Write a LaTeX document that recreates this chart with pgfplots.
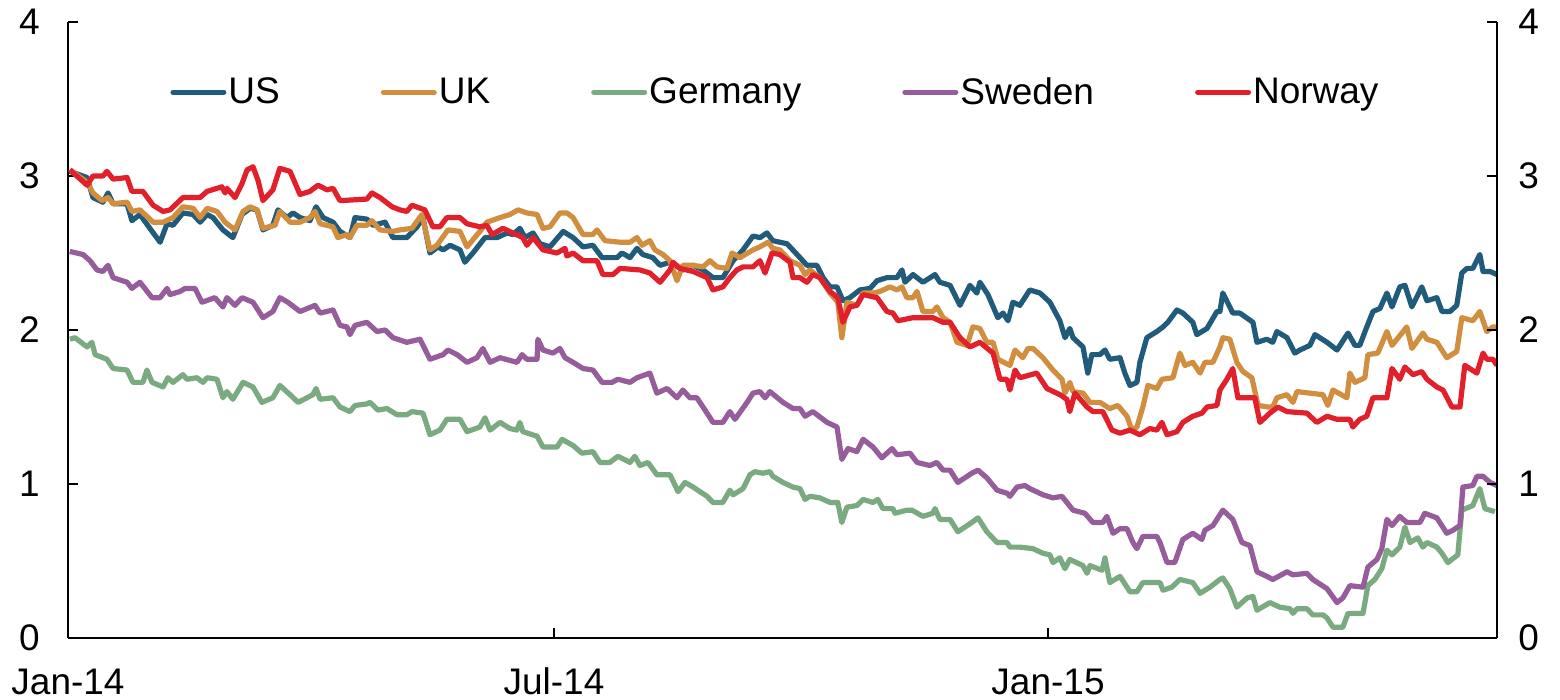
\documentclass[border=0pt]{standalone}
\usepackage{pgfplots}
\pgfplotsset{compat=1.18}
\usepackage{fontspec}
\setmainfont{Liberation Sans}
\definecolor{cUS}{RGB}{33,91,124}
\definecolor{cUK}{RGB}{210,142,63}
\definecolor{cDE}{RGB}{122,170,128}
\definecolor{cSE}{RGB}{150,92,155}
\definecolor{cNO}{RGB}{226,32,44}
\newcommand{\tf}{\fontsize{18.5}{22}\selectfont}
\begin{document}
\begin{tikzpicture}
\begin{axis}[
  scale only axis, width=714.5pt, height=308pt,
  xmin=0, xmax=532.2, ymin=0, ymax=4, enlargelimits=false,
  axis x line*=bottom, axis y line*=left,
  axis line style={-, line width=1pt, black},
  tick align=inside, major tick length=5pt,
  tick style={line width=1pt, black},
  xtick={0,181,365}, xticklabels={Jan-14,Jul-14,Jan-15},
  ytick={0,1,2,3,4},
  /pgf/number format/assume math mode=true,
  ticklabel style={font=\tf, inner sep=0pt},
  xticklabel style={anchor=base, yshift=-28.5pt},
  yticklabel style={xshift=-14pt},
  legend columns=5,
  legend style={at={(0.0714,0.886)}, anchor=west, draw=none, fill=none,
    inner sep=0pt, font=\tf,
    nodes={inner xsep=1pt, inner ysep=0pt},
    /tikz/every even column/.append style={column sep=49.5pt}},
  legend image code/.code={\draw[#1, line width=2.6pt, line cap=round] (1.3pt,0pt) -- (26.7pt,0pt);},
  every axis plot/.append style={line width=2.6pt, line join=round},
]
\coordinate (O) at (rel axis cs:0,0);
\coordinate (T) at (rel axis cs:1,1);
% US
\addplot[cUS, no marks] table {
0.7 3.03
7.1 2.99
9.3 2.86
13.0 2.83
14.9 2.89
16.8 2.82
22.0 2.82
23.8 2.71
26.8 2.75
30.5 2.66
34.3 2.57
36.9 2.69
39.1 2.68
42.8 2.76
46.6 2.75
49.2 2.70
51.8 2.75
54.0 2.73
57.7 2.65
61.4 2.60
64.8 2.75
67.8 2.79
70.4 2.78
72.6 2.65
76.3 2.68
78.2 2.78
81.6 2.73
83.8 2.76
86.4 2.73
90.1 2.71
92.4 2.80
95.0 2.73
98.7 2.70
101.3 2.64
105.0 2.60
106.9 2.73
111.3 2.72
113.6 2.68
118.1 2.70
121.0 2.60
126.2 2.60
130.0 2.67
132.2 2.73
134.8 2.50
137.8 2.54
139.7 2.52
142.3 2.55
146.0 2.52
147.8 2.44
150.8 2.50
155.3 2.60
159.8 2.60
163.5 2.63
165.7 2.62
168.3 2.66
170.2 2.60
173.2 2.63
175.8 2.56
179.5 2.54
184.4 2.64
188.1 2.60
191.8 2.54
195.5 2.55
198.9 2.47
204.5 2.47
206.3 2.50
209.3 2.47
211.9 2.53
214.1 2.49
217.8 2.47
220.5 2.42
224.2 2.44
229.0 2.39
232.8 2.42
236.5 2.39
240.2 2.34
243.9 2.34
247.7 2.45
251.4 2.52
255.1 2.61
257.7 2.60
260.3 2.63
262.5 2.58
267.8 2.56
272.6 2.47
275.2 2.42
278.9 2.42
281.2 2.34
283.8 2.28
286.4 2.28
288.6 2.19
291.2 2.21
294.9 2.26
298.7 2.27
301.3 2.32
305.0 2.34
308.7 2.34
310.6 2.39
311.7 2.31
314.7 2.36
318.4 2.31
322.9 2.36
324.7 2.31
328.5 2.29
332.2 2.16
335.9 2.29
338.5 2.24
339.6 2.31
342.6 2.23
346.3 2.08
348.2 2.11
350.1 2.06
351.9 2.18
354.5 2.16
358.2 2.26
362.0 2.24
365.7 2.18
369.4 2.06
371.3 1.95
373.1 2.01
374.3 1.95
378.0 1.89
379.8 1.72
381.3 1.84
384.3 1.84
386.2 1.87
388.0 1.81
391.8 1.82
393.6 1.72
395.5 1.64
398.1 1.66
399.2 1.79
401.8 1.95
405.5 1.99
407.8 2.02
409.6 2.05
413.0 2.13
415.2 2.11
418.9 2.05
420.4 1.97
424.2 2.01
427.9 2.12
429.0 2.12
430.1 2.24
433.8 2.11
436.4 2.11
441.3 2.05
442.8 1.92
446.5 1.94
448.7 1.92
450.2 1.99
454.0 1.95
456.9 1.85
458.8 1.87
462.5 1.90
464.4 1.97
468.9 1.92
472.6 1.87
476.7 1.98
479.3 1.90
481.1 1.90
483.7 2.02
486.0 2.12
488.6 2.14
491.2 2.24
493.1 2.15
496.0 2.28
497.9 2.29
500.5 2.15
504.2 2.28
506.1 2.19
509.8 2.21
511.7 2.12
514.7 2.12
517.2 2.16
519.1 2.37
521.0 2.40
523.2 2.40
525.8 2.49
527.0 2.38
529.6 2.38
532.2 2.36
};
\addlegendentry{US}
% UK
\addplot[cUK, no marks] table {
0.7 3.04
7.1 2.96
9.3 2.89
12.7 2.84
14.9 2.86
16.8 2.82
22.0 2.83
23.8 2.77
26.8 2.78
31.7 2.70
35.4 2.70
39.1 2.73
42.8 2.80
46.6 2.79
49.2 2.73
51.8 2.79
55.5 2.77
58.5 2.70
62.2 2.65
65.2 2.77
67.8 2.80
70.4 2.78
72.6 2.66
77.1 2.68
78.9 2.77
82.7 2.70
86.4 2.70
90.1 2.73
92.0 2.77
93.9 2.69
98.7 2.67
100.5 2.60
103.9 2.62
105.0 2.60
107.6 2.68
111.3 2.68
113.2 2.71
116.2 2.65
121.0 2.64
123.6 2.65
128.1 2.66
131.8 2.75
134.8 2.52
137.4 2.55
141.5 2.65
146.0 2.64
148.6 2.54
153.4 2.64
156.0 2.70
160.9 2.73
164.6 2.75
167.6 2.78
170.9 2.76
174.7 2.75
176.9 2.66
179.5 2.67
183.2 2.76
185.8 2.76
188.1 2.73
191.8 2.62
195.5 2.62
197.0 2.65
200.0 2.58
205.6 2.57
209.3 2.57
211.9 2.60
213.8 2.55
216.7 2.58
218.6 2.52
221.6 2.49
224.2 2.45
226.8 2.32
229.0 2.42
232.8 2.42
236.5 2.41
239.1 2.45
241.7 2.41
245.4 2.40
247.3 2.50
250.3 2.47
255.1 2.52
257.7 2.54
260.7 2.57
262.5 2.53
265.1 2.52
268.9 2.45
272.6 2.42
274.5 2.36
276.3 2.39
280.0 2.34
283.8 2.24
286.7 2.18
288.2 1.95
290.1 2.18
293.8 2.16
296.1 2.24
299.8 2.24
302.4 2.25
306.1 2.28
308.7 2.26
310.6 2.28
312.4 2.21
314.7 2.21
316.2 2.25
318.4 2.12
322.1 2.12
323.6 2.15
325.9 2.08
328.5 2.05
331.1 1.92
334.8 1.90
337.0 2.02
339.6 2.01
342.2 1.92
344.5 1.92
346.3 1.81
350.8 1.77
352.7 1.87
355.6 1.82
357.5 1.88
359.4 1.88
363.1 1.82
366.8 1.74
370.2 1.68
371.3 1.59
373.1 1.66
374.3 1.60
378.0 1.59
380.6 1.53
384.3 1.53
388.0 1.49
391.0 1.51
394.4 1.44
396.2 1.35
398.1 1.37
400.3 1.50
402.2 1.64
405.5 1.62
407.4 1.68
411.5 1.69
414.1 1.85
416.0 1.77
418.9 1.79
421.6 1.72
423.4 1.79
426.4 1.79
429.0 1.89
430.1 1.95
432.7 1.94
435.3 1.79
437.6 1.73
440.9 1.69
443.2 1.51
446.9 1.50
448.7 1.50
450.2 1.56
454.0 1.58
456.2 1.53
457.7 1.60
462.5 1.59
467.4 1.58
469.2 1.51
471.1 1.61
476.3 1.56
477.4 1.72
479.3 1.66
483.0 1.69
484.1 1.84
487.8 1.85
491.2 1.99
493.1 1.90
498.6 2.02
500.5 1.88
504.6 1.98
506.1 1.94
509.8 1.92
513.5 1.82
517.2 1.86
519.1 2.08
523.2 2.06
525.8 2.12
528.4 1.99
530.7 2.02
532.2 2.02
};
\addlegendentry{UK}
% Germany
\addplot[cDE, no marks] table {
0.7 1.94
2.6 1.95
7.1 1.89
8.9 1.92
10.1 1.84
14.5 1.81
16.8 1.75
22.0 1.74
24.2 1.66
27.9 1.66
29.4 1.74
31.3 1.66
35.4 1.63
37.2 1.69
39.1 1.66
42.8 1.71
44.3 1.68
48.0 1.69
50.3 1.66
51.8 1.69
55.5 1.68
57.7 1.56
59.2 1.60
61.4 1.55
65.2 1.66
68.9 1.63
72.2 1.53
76.3 1.56
78.9 1.64
82.7 1.58
85.7 1.53
91.2 1.58
92.4 1.62
93.9 1.55
98.7 1.56
101.3 1.50
105.0 1.47
106.9 1.51
111.3 1.52
112.5 1.53
115.4 1.48
118.8 1.49
122.5 1.45
126.2 1.45
128.1 1.47
132.2 1.46
134.8 1.32
138.5 1.35
141.1 1.42
146.0 1.42
148.6 1.34
153.4 1.37
155.3 1.43
157.2 1.35
160.9 1.40
164.6 1.36
167.2 1.35
168.3 1.40
169.4 1.34
174.7 1.31
176.9 1.24
182.1 1.24
184.0 1.29
188.1 1.25
191.4 1.20
195.5 1.21
198.1 1.14
201.8 1.14
204.8 1.18
209.3 1.14
211.1 1.18
213.0 1.12
216.0 1.14
219.3 1.06
224.2 1.06
227.2 0.95
229.8 1.01
232.8 0.98
238.0 0.92
240.2 0.88
243.9 0.88
246.5 0.96
247.7 0.93
251.4 0.97
254.0 1.06
255.8 1.08
258.8 1.07
261.4 1.08
262.5 1.05
266.3 1.01
270.0 0.98
272.6 0.97
274.5 0.90
276.3 0.92
280.0 0.91
283.8 0.88
286.7 0.88
288.2 0.75
290.1 0.85
293.8 0.86
296.1 0.90
299.8 0.88
301.6 0.90
303.5 0.84
307.2 0.84
308.0 0.81
312.4 0.83
314.3 0.83
318.4 0.79
322.1 0.81
322.9 0.84
324.7 0.77
328.5 0.77
331.4 0.69
336.6 0.75
338.9 0.78
342.2 0.69
346.0 0.62
349.7 0.62
350.8 0.59
354.5 0.59
359.4 0.58
363.1 0.55
365.7 0.54
366.8 0.49
369.4 0.52
371.3 0.45
373.1 0.51
378.0 0.47
379.5 0.42
380.6 0.47
385.1 0.44
386.2 0.52
388.0 0.36
391.8 0.40
395.5 0.30
398.1 0.30
400.3 0.36
404.1 0.36
406.7 0.36
407.8 0.31
411.1 0.33
414.1 0.38
418.9 0.36
421.6 0.29
425.3 0.33
429.0 0.38
430.1 0.39
432.7 0.32
435.3 0.20
439.1 0.26
441.3 0.27
442.8 0.18
447.6 0.23
451.3 0.20
455.1 0.19
456.2 0.16
457.7 0.19
461.4 0.19
463.6 0.15
467.4 0.15
468.9 0.13
471.1 0.07
474.8 0.07
476.7 0.16
482.3 0.16
484.1 0.34
486.7 0.38
489.3 0.45
491.2 0.57
493.1 0.54
496.0 0.59
497.9 0.72
499.8 0.62
502.7 0.65
504.6 0.59
506.1 0.62
509.8 0.59
511.7 0.55
513.9 0.49
517.6 0.54
519.1 0.83
523.2 0.86
525.8 0.97
527.7 0.84
531.4 0.82
};
\addlegendentry{Germany}
% Sweden
\addplot[cSE, no marks] table {
0.7 2.51
5.6 2.49
8.2 2.45
10.8 2.39
13.0 2.38
14.9 2.42
16.8 2.34
22.0 2.31
23.8 2.27
26.8 2.31
31.3 2.21
34.3 2.21
36.9 2.27
38.0 2.23
41.7 2.25
43.6 2.27
47.3 2.27
49.9 2.18
54.7 2.21
57.7 2.15
59.2 2.21
62.2 2.16
64.8 2.21
68.9 2.18
72.6 2.08
76.3 2.12
78.9 2.21
81.9 2.18
86.4 2.12
92.0 2.16
93.9 2.11
98.7 2.13
101.3 2.03
103.9 2.02
105.0 1.97
106.9 2.03
111.3 2.05
115.1 1.99
118.1 2.00
121.0 1.95
126.2 1.92
131.1 1.94
134.8 1.81
139.7 1.84
141.5 1.87
144.9 1.84
148.6 1.79
152.3 1.82
154.5 1.88
157.2 1.79
160.9 1.82
167.2 1.79
169.1 1.84
170.9 1.81
174.7 1.81
175.0 1.94
176.9 1.87
180.6 1.85
183.2 1.88
185.1 1.82
188.1 1.79
191.8 1.75
195.5 1.74
198.9 1.66
202.6 1.66
204.8 1.68
209.3 1.66
211.9 1.69
216.7 1.72
219.3 1.59
223.1 1.62
226.8 1.56
229.0 1.61
231.6 1.56
234.2 1.56
238.0 1.46
240.2 1.40
243.9 1.40
246.5 1.47
248.4 1.42
252.9 1.53
255.1 1.59
257.7 1.60
259.6 1.56
261.4 1.60
266.3 1.53
270.0 1.49
272.6 1.49
274.5 1.44
277.4 1.47
282.7 1.40
286.4 1.37
288.2 1.16
290.5 1.23
293.8 1.21
296.1 1.29
299.8 1.24
303.1 1.17
306.9 1.23
308.7 1.19
313.6 1.20
316.2 1.14
321.0 1.12
323.6 1.14
325.9 1.09
328.5 1.09
331.4 1.01
336.6 1.07
338.9 1.09
342.2 1.04
346.0 0.96
349.7 0.94
350.8 0.92
353.4 0.98
356.4 0.99
358.2 0.97
363.1 0.93
366.8 0.91
370.2 0.92
374.3 0.83
378.7 0.81
381.7 0.75
385.4 0.75
386.9 0.79
389.2 0.68
391.8 0.71
394.4 0.71
396.6 0.62
398.1 0.58
400.3 0.66
405.5 0.66
406.7 0.62
409.3 0.49
412.2 0.49
415.2 0.64
418.9 0.68
422.3 0.64
423.4 0.70
426.4 0.73
430.1 0.83
433.8 0.77
437.2 0.62
440.2 0.60
442.8 0.43
446.5 0.40
448.7 0.38
454.0 0.43
456.2 0.41
461.4 0.42
463.6 0.38
468.9 0.32
472.6 0.23
474.8 0.26
477.4 0.34
482.3 0.33
484.1 0.46
487.5 0.51
489.3 0.58
491.2 0.77
493.1 0.73
496.0 0.79
498.6 0.75
503.5 0.75
505.3 0.81
509.8 0.78
513.5 0.68
515.8 0.70
518.4 0.73
519.5 0.98
523.2 0.99
524.7 1.05
527.0 1.05
529.6 1.01
532.2 0.99
};
\addlegendentry{Sweden}
% Norway
\addplot[cNO, no marks] table {
0.7 3.04
7.1 2.94
9.3 3.00
13.0 3.00
14.5 3.03
16.8 2.98
22.0 2.99
23.8 2.90
27.9 2.90
31.7 2.81
35.4 2.77
38.0 2.78
42.8 2.86
49.2 2.86
51.8 2.90
55.5 2.92
57.3 2.93
58.5 2.89
59.2 2.92
62.2 2.86
64.8 2.95
66.7 3.04
68.9 3.06
70.8 2.97
72.6 2.84
76.3 2.91
78.9 3.05
82.7 3.03
86.4 2.88
90.1 2.90
93.1 2.94
96.5 2.91
98.7 2.92
101.3 2.84
111.3 2.85
113.2 2.89
116.2 2.86
120.7 2.80
123.6 2.78
126.2 2.77
128.1 2.81
132.9 2.78
135.9 2.67
138.5 2.67
141.1 2.73
146.0 2.73
148.6 2.69
153.4 2.67
156.0 2.68
157.9 2.62
162.0 2.66
165.7 2.63
169.4 2.60
170.9 2.55
173.2 2.60
176.9 2.52
182.1 2.50
185.1 2.53
185.8 2.48
188.1 2.50
191.8 2.45
197.0 2.45
199.2 2.36
203.0 2.36
205.6 2.40
213.0 2.39
216.7 2.37
220.5 2.31
224.2 2.39
225.3 2.44
227.9 2.40
232.8 2.38
238.0 2.34
240.2 2.26
243.9 2.28
246.5 2.34
249.1 2.39
251.4 2.41
255.1 2.41
257.7 2.45
259.6 2.37
262.2 2.50
265.1 2.49
268.9 2.44
270.0 2.34
272.6 2.34
275.2 2.31
277.4 2.36
280.0 2.34
283.8 2.25
286.7 2.21
288.6 2.05
291.2 2.15
293.8 2.16
296.1 2.23
301.3 2.21
305.0 2.12
307.2 2.11
309.1 2.06
314.7 2.08
317.3 2.08
322.1 2.08
325.9 2.05
328.5 2.05
332.2 1.95
335.9 1.89
339.6 1.92
344.5 1.85
347.1 1.68
349.7 1.68
350.8 1.61
352.7 1.74
354.5 1.69
360.8 1.72
364.6 1.62
369.4 1.58
372.0 1.55
373.1 1.47
375.0 1.59
379.5 1.50
381.7 1.47
385.4 1.47
388.8 1.35
391.8 1.33
395.5 1.35
399.2 1.32
402.9 1.36
405.5 1.35
407.4 1.40
409.3 1.32
413.0 1.34
415.2 1.40
418.9 1.44
422.3 1.46
424.2 1.50
427.9 1.51
429.0 1.61
431.6 1.68
433.8 1.75
435.7 1.56
442.0 1.56
443.9 1.40
447.6 1.46
450.6 1.50
454.0 1.47
461.4 1.46
465.1 1.40
468.9 1.44
472.6 1.42
477.4 1.42
478.5 1.37
481.1 1.42
483.7 1.44
486.0 1.56
491.2 1.56
493.1 1.75
496.0 1.68
497.9 1.76
500.9 1.71
504.2 1.73
506.1 1.68
509.8 1.63
512.1 1.61
515.4 1.50
518.4 1.50
520.2 1.77
524.7 1.72
527.0 1.85
528.4 1.81
530.7 1.81
532.2 1.77
};
\addlegendentry{Norway}
\end{axis}
\begin{axis}[
  scale only axis, width=714.5pt, height=308pt,
  xmin=0, xmax=532.2, ymin=0, ymax=4, enlargelimits=false,
  axis x line=none, axis y line*=right,
  axis line style={-, line width=1pt, black},
  tick align=inside, major tick length=5pt,
  tick style={line width=1pt, black},
  ytick={0,1,2,3,4},
  /pgf/number format/assume math mode=true,
  ticklabel style={font=\tf, inner sep=0pt},
  yticklabel style={xshift=10.5pt},
]
\addplot[draw=none, forget plot] coordinates {(0,0)};
\end{axis}
\path (O) ++(-34pt,-31pt) coordinate (BB1);
\path (T) ++(31.5pt,11pt) coordinate (BB2);
\path (BB1) rectangle (BB2);
\end{tikzpicture}
\end{document}
